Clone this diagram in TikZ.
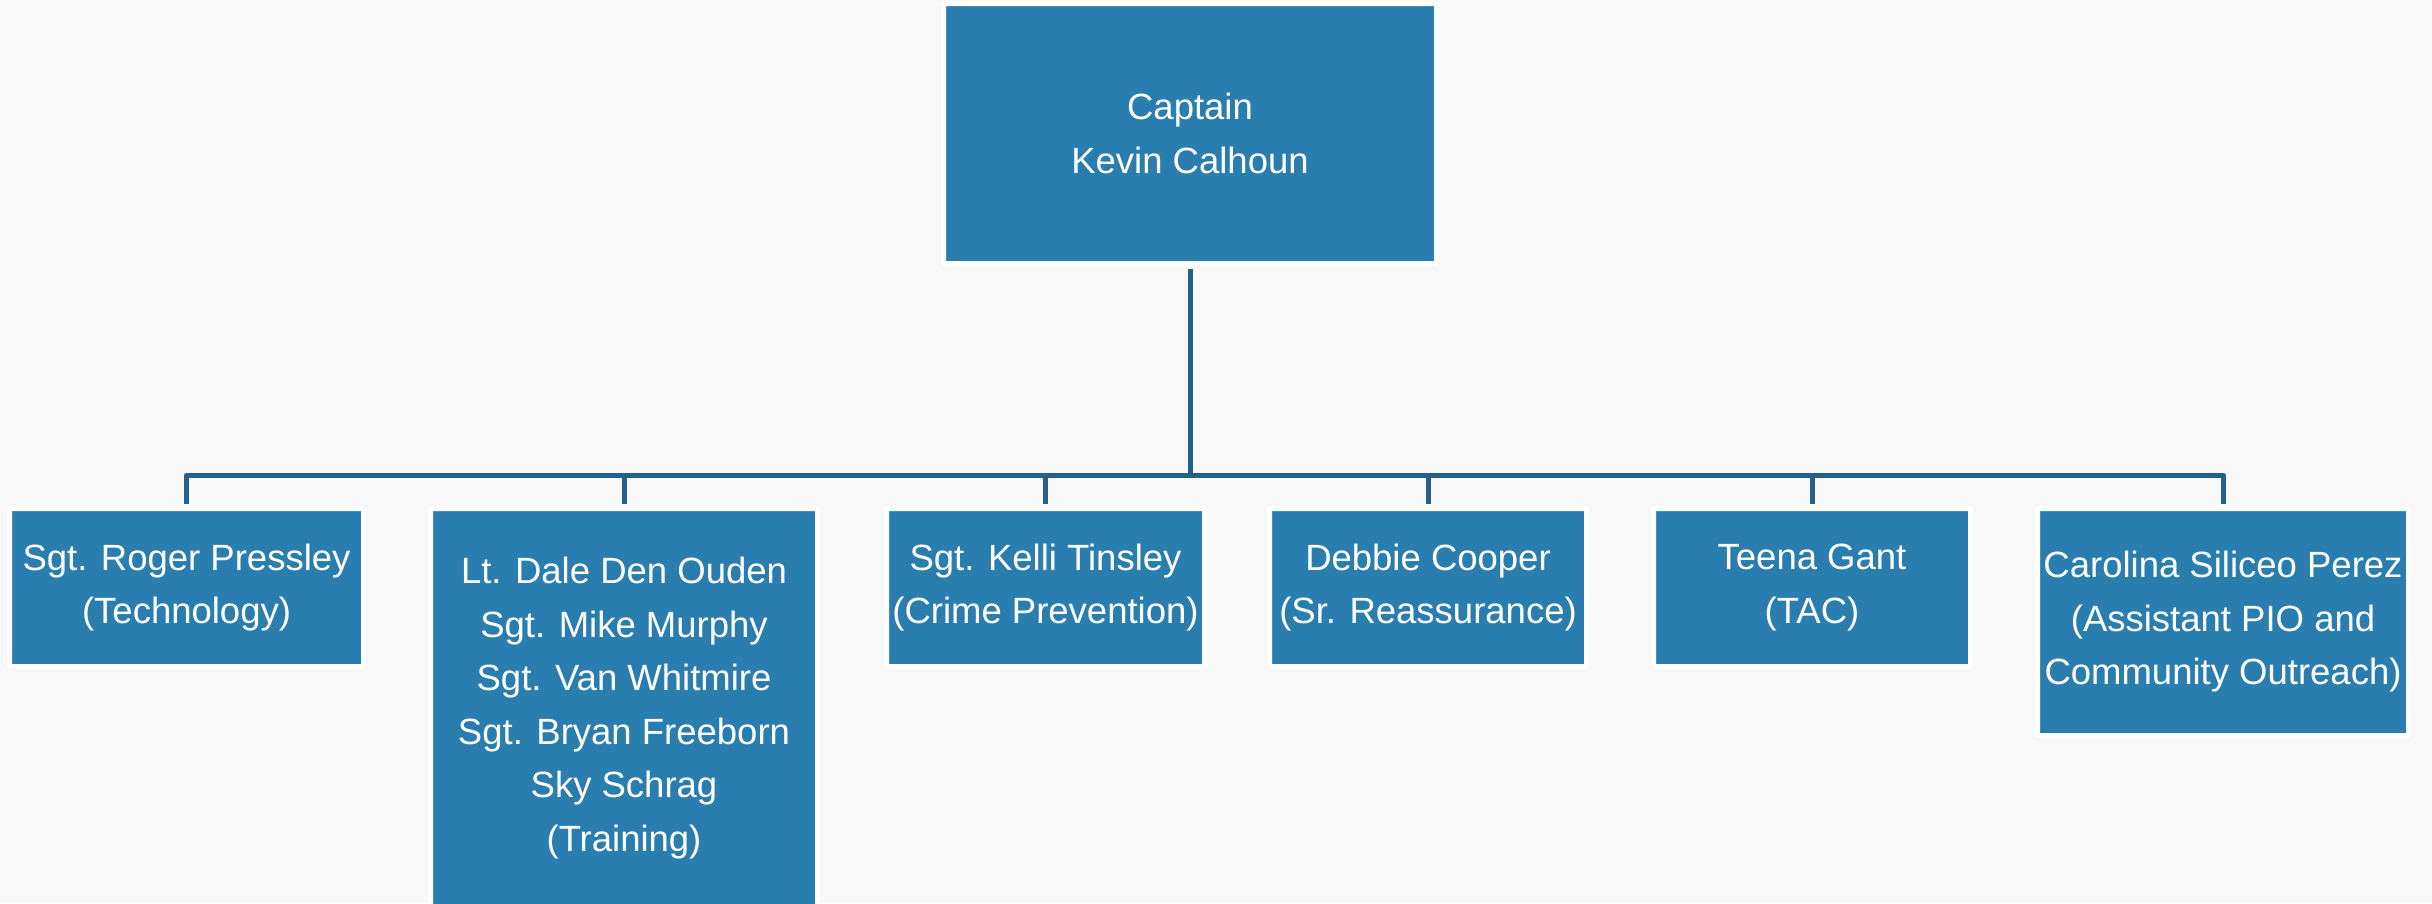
\documentclass[tikz,border=0pt]{standalone}
\usepackage{fontspec}
\setmainfont{Liberation Sans}
\definecolor{bgc}{HTML}{F8F8F8}
\definecolor{boxc}{HTML}{2A7EAF}
\definecolor{linec}{HTML}{21618C}
\begin{document}
\begin{tikzpicture}[x=1pt,y=-1pt,
  person/.style={rectangle, fill=boxc, draw=white, line width=5pt, rounded corners=1.5pt,
    text=white, align=center, inner sep=0pt,
    font=\fontsize{36.5pt}{53.5pt}\selectfont},
  conn/.style={draw=linec, line width=5pt, line join=round, line cap=butt}]
\useasboundingbox (0,0) rectangle (2432,903);
\clip (0,0) rectangle (2432,903);
\fill[bgc] (0,0) rectangle (2432,903);
\coordinate (busy) at (0,475);
\node[person, minimum width=493pt, minimum height=260pt] (cap) at (1190,133.5) {Captain\\Kevin Calhoun};
\node[person, minimum width=354pt, minimum height=158pt] (c1) at (186.5,587.5) {Sgt. Roger Pressley\\(Technology)};
\node[person, minimum width=387pt, minimum height=399pt] (c2) at (624,708) {Lt. Dale Den Ouden\\Sgt. Mike Murphy\\Sgt. Van Whitmire\\Sgt. Bryan Freeborn\\Sky Schrag\\(Training)};
\node[person, minimum width=318pt, minimum height=158pt] (c3) at (1045.5,587.5) {Sgt. Kelli Tinsley\\(Crime Prevention)};
\node[person, minimum width=317pt, minimum height=158pt] (c4) at (1428,587.5) {Debbie Cooper\\(Sr. Reassurance)};
\node[person, minimum width=317pt, minimum height=158pt] (c5) at (1812,587.5) {Teena Gant\\(TAC)};
\node[person, minimum width=371pt, minimum height=227pt] (c6) at (2223,622) {Carolina Siliceo Perez\\(Assistant PIO and\\Community Outreach)};
\draw[conn, shorten <=2.5pt] (cap.south) -- (cap.south |- busy);
\draw[conn, shorten <=2.5pt, shorten >=2.5pt] (c1.north) -- (c1.north |- busy) -- (c6.north |- busy) -- (c6.north);
\draw[conn, shorten <=2.5pt] (c2.north) -- (c2.north |- busy);
\draw[conn, shorten <=2.5pt] (c3.north) -- (c3.north |- busy);
\draw[conn, shorten <=2.5pt] (c4.north) -- (c4.north |- busy);
\draw[conn, shorten <=2.5pt] (c5.north) -- (c5.north |- busy);
\end{tikzpicture}
\end{document}
